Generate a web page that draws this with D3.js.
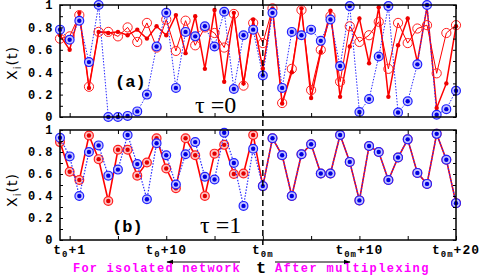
<!DOCTYPE html>
<html>
<head>
<meta charset="utf-8">
<script src="https://cdn.jsdelivr.net/npm/d3@7"></script>
<style>
  body { margin: 0; background: #fff; }
  svg { display: block; }
</style>
</head>
<body>
<svg id="chart" width="485" height="277"></svg>
<script>
// panel (a), tau = 0 : one value per time step (42 steps)
const blueA = [0.78, 0.69, 0.86, 0.49, 1.00, 0.00, 0.00, 0.01, 0.05, 0.20,
  0.63, 0.93, 0.26, 0.76, 0.72, 0.81, 0.63, 0.94, 0.25, 0.73,
  0.78, 0.37, 0.93, 0.26, 0.76, 0.73, 0.78, 0.68, 0.87, 0.455,
  0.99, 0.045, 0.16, 0.54, 0.99, 0.04, 0.14, 0.47, 1.00, 0.02,
  0.07, 0.235];
const redDotA = [0.73, 0.60, 0.93, 0.26, 0.76, 0.75, 0.76, 0.73, 0.78, 0.70,
  0.81, 0.73, 0.91, 0.57, 0.90, 0.43, 0.955, 0.315, 0.93, 0.30,
  0.87, 0.43, 0.97, 0.12, 0.40, 0.97, 0.17, 0.58, 0.95, 0.18,
  0.63, 0.88, 0.48, 0.98, 0.18, 0.64, 0.88, 0.49, 0.98, 0.08,
  0.30, 0.81];
const redRingA = [0.70, 0.72, 0.91, 0.27, 0.76, 0.76, 0.72, 0.80, 0.67, 0.84,
  0.62, 0.87, 0.59, 0.86, 0.64, 0.80, 0.75, 0.62, 0.92, 0.28,
  0.84, 0.66, 0.97, 0.125, 0.43, 0.955, 0.24, 0.60, 0.90, 0.315,
  0.81, 0.67, 0.73, 0.85, 0.43, 0.84, 0.66, 0.79, 0.82, 0.39,
  0.75, 0.82];

// panel (b), tau = 1
const blueB = [0.93, 0.76, 0.40, 0.80, 0.86, 0.585, 0.64, 0.955, 0.69, 0.37,
  0.88, 0.77, 0.505, 0.78, 0.89, 0.575, 0.55, 0.975, 0.70, 0.31,
  0.83, 0.49, 0.925, 0.77, 0.40, 0.78, 0.87, 0.605, 0.605, 0.955,
  0.71, 0.36, 0.855, 0.80, 0.545, 0.75, 0.915, 0.61, 0.51, 0.965,
  0.73, 0.335];
const redB = [0.89, 0.62, 0.545, 0.95, 0.735, 0.355, 0.82, 0.82, 0.585, 0.705,
  0.925, 0.65, 0.47, 0.925, 0.77, 0.40, 0.785, 0.865, 0.60, 0.605,
  0.955, 0.49, 0.925, 0.77, 0.40, 0.78, 0.87, 0.605, 0.605, 0.955,
  0.71, 0.36, 0.855, 0.80, 0.545, 0.75, 0.915, 0.61, 0.51, 0.965,
  0.73, 0.335];

// axes
const yTicks = [0, 0.2, 0.4, 0.6, 0.8, 1];
const yTickLabels = ['0', '0.2', '0.4', '0.6', '0.8', '1'];
const yMinorTicks = [0.1, 0.3, 0.5, 0.7, 0.9];
const xTicks = [1, 6, 11, 16, 21, 26, 31, 36, 41];
const xLabelSteps = [1, 11, 21, 31, 41];
const xLabelSub = ['0', '0', '0m', '0m', '0m'];
const xLabelTail = ['+1', '+10', '', '+10', '+20'];
const multiplexStep = 21;

const svg = d3.select('#chart');
const mono = '"Liberation Mono", "DejaVu Sans Mono", monospace';

const x = d3.scaleLinear().domain([0, blueA.length - 1]).range([60, 456]);
const yA = d3.scaleLinear().domain([0, 1]).range([117, 5]);
const yB = d3.scaleLinear().domain([0, 1]).range([240, 130]);

function frame(y) {
  const g = svg.append('g');
  const [y0, y1] = y.range();
  // inward ticks on all four sides
  g.append('g').attr('transform', `translate(0,${y0})`)
    .call(d3.axisBottom(x).tickValues(xTicks).tickSize(-4).tickFormat(''));
  g.append('g').attr('transform', `translate(0,${y1})`)
    .call(d3.axisTop(x).tickValues(xTicks).tickSize(-4).tickFormat(''));
  g.append('g').attr('transform', 'translate(456,0)')
    .call(d3.axisRight(y).tickValues(yTicks.concat(yMinorTicks)).tickSize(-3).tickFormat(''));
  const left = g.append('g').attr('transform', 'translate(60,0)')
    .call(d3.axisLeft(y).tickValues(yTicks).tickSize(-3).tickPadding(6)
      .tickFormat((d, i) => yTickLabels[i]));
  g.append('g').attr('transform', 'translate(60,0)')
    .call(d3.axisLeft(y).tickValues(yMinorTicks).tickSize(-3).tickFormat(''));
  g.selectAll('.domain').remove();
  g.selectAll('.tick line').attr('stroke', '#000');
  left.selectAll('text')
    .attr('font-family', mono).attr('font-weight', 'bold')
    .attr('font-size', 12).attr('letter-spacing', 1.5).attr('fill', '#000');
  g.append('rect')
    .attr('x', 60).attr('y', y1).attr('width', 396).attr('height', y0 - y1)
    .attr('fill', 'none').attr('stroke', '#000').attr('stroke-width', 1.5);
}

function series(y, values, color, width, dash) {
  svg.append('path')
    .datum(values)
    .attr('fill', 'none')
    .attr('stroke', color)
    .attr('stroke-width', width)
    .attr('stroke-dasharray', dash)
    .attr('d', d3.line().x((d, i) => x(i)).y(d => y(d)));
}

function ringDots(y, values, light, ring, core) {
  const g = svg.append('g');
  g.selectAll('circle.r').data(values).enter().append('circle')
    .attr('cx', (d, i) => x(i)).attr('cy', d => y(d)).attr('r', 4.4)
    .attr('fill', light).attr('stroke', ring).attr('stroke-width', 1.2);
  g.selectAll('circle.c').data(values).enter().append('circle')
    .attr('cx', (d, i) => x(i)).attr('cy', d => y(d)).attr('r', 2.2)
    .attr('fill', core);
}

// panel (a)
series(yA, redRingA, '#ff0000', 1, null);
series(yA, redDotA, '#ff0000', 1.5, null);
series(yA, blueA, '#2a2aff', 1, '1.5,1.5');
svg.append('g').selectAll('circle').data(redRingA).enter().append('circle')
  .attr('cx', (d, i) => x(i)).attr('cy', d => yA(d)).attr('r', 4.6)
  .attr('fill', 'none').attr('stroke', '#ff2020').attr('stroke-width', 1);
svg.append('g').selectAll('circle').data(redDotA).enter().append('circle')
  .attr('cx', (d, i) => x(i)).attr('cy', d => yA(d)).attr('r', 2.2)
  .attr('fill', '#ee0000');
ringDots(yA, blueA, '#c4c4ff', '#2020ff', '#0000e0');
frame(yA);

// panel (b)
series(yB, redB, '#ff0000', 1.6, null);
ringDots(yB, redB, '#ffc4c4', '#ff2020', '#e00000');
series(yB, blueB, '#2a2aff', 1.2, '1.5,1.5');
ringDots(yB, blueB, '#c4c4ff', '#2020ff', '#0000e0');
frame(yB);

// x tick labels under panel (b)
const xl = svg.append('g').attr('font-family', mono).attr('font-weight', 'bold').attr('fill', '#000');
xLabelSteps.forEach((s, i) => {
  const t = xl.append('text').attr('x', x(s)).attr('y', 254)
    .attr('text-anchor', 'middle').attr('font-size', 13).attr('letter-spacing', 1);
  t.append('tspan').text('t');
  t.append('tspan').attr('font-size', 9).attr('dy', 3).text(xLabelSub[i]);
  t.append('tspan').attr('dy', -3).text(xLabelTail[i]);
});

// multiplexing instant
svg.append('line')
  .attr('x1', x(multiplexStep)).attr('x2', x(multiplexStep))
  .attr('y1', 0).attr('y2', 245)
  .attr('stroke', '#000').attr('stroke-width', 1.5).attr('stroke-dasharray', '6,4');

// panel annotations
const ann = [
  { t: '(a)', x: 115, y: 87 },
  { t: '(b)', x: 112, y: 232 }
];
svg.selectAll('text.ann').data(ann).enter().append('text')
  .attr('x', d => d.x).attr('y', d => d.y)
  .attr('font-family', mono).attr('font-weight', 'bold').attr('font-size', 17)
  .text(d => d.t);
svg.append('text').attr('x', 195).attr('y', 113)
  .attr('font-family', '"Liberation Serif", serif').attr('font-size', 24)
  .text('τ =0');
svg.append('text').attr('x', 200).attr('y', 233)
  .attr('font-family', '"Liberation Serif", serif').attr('font-size', 24)
  .text('τ =1');

// y titles
[63, 190].forEach(cy => {
  const t = svg.append('text')
    .attr('transform', `translate(17,${cy}) rotate(-90)`)
    .attr('text-anchor', 'middle')
    .attr('font-family', '"DejaVu Sans", sans-serif').attr('font-size', 14)
    .attr('letter-spacing', 1);
  t.append('tspan').text('X');
  t.append('tspan').attr('font-size', 10).attr('dy', 4).text('i');
  t.append('tspan').attr('dy', -4).text('(t)');
});

// bottom notes and arrows
svg.append('defs').append('marker')
  .attr('id', 'head').attr('viewBox', '0 0 10 10').attr('refX', 9).attr('refY', 5)
  .attr('markerWidth', 7).attr('markerHeight', 7).attr('orient', 'auto-start-reverse')
  .append('path').attr('d', 'M0,1.5L10,5L0,8.5Z').attr('fill', '#000');
svg.append('line').attr('x1', 240).attr('x2', 167).attr('y1', 262).attr('y2', 262)
  .attr('stroke', '#000').attr('stroke-width', 1).attr('marker-end', 'url(#head)');
svg.append('line').attr('x1', 275).attr('x2', 350).attr('y1', 262).attr('y2', 262)
  .attr('stroke', '#000').attr('stroke-width', 1).attr('marker-end', 'url(#head)');
svg.append('text').attr('x', 73).attr('y', 272)
  .attr('font-family', mono).attr('font-weight', 'bold').attr('font-size', 12)
  .attr('letter-spacing', 1.2).attr('fill', '#ff00ff')
  .text('For isolated network');
svg.append('text').attr('x', 275).attr('y', 272)
  .attr('font-family', mono).attr('font-weight', 'bold').attr('font-size', 12)
  .attr('letter-spacing', 1.4).attr('fill', '#ff00ff')
  .text('After multiplexing');
svg.append('text').attr('x', 261).attr('y', 273).attr('text-anchor', 'middle')
  .attr('font-family', mono).attr('font-weight', 'bold').attr('font-size', 17)
  .text('t');
</script>
</body>
</html>
